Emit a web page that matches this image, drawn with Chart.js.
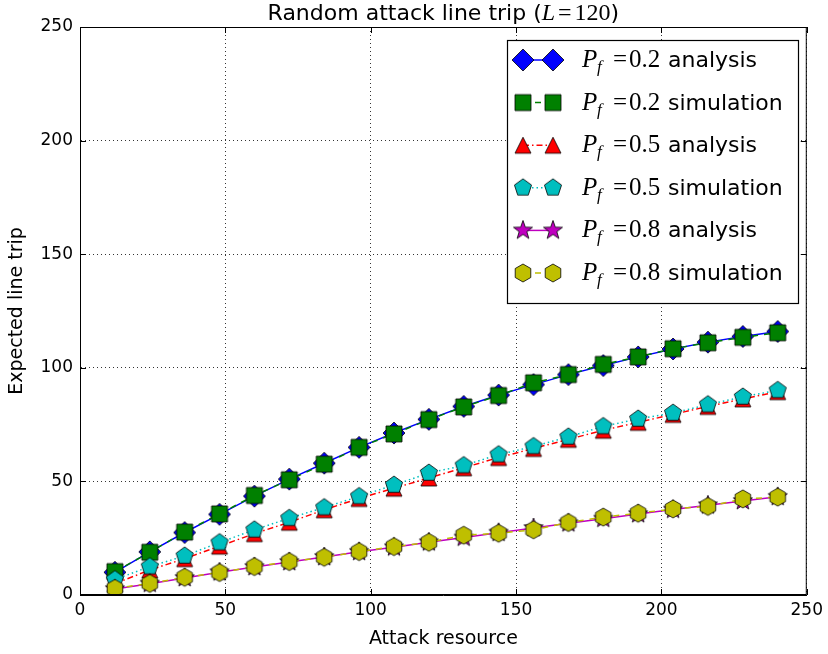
<!DOCTYPE html>
<html>
<head>
<meta charset="utf-8">
<script src="https://cdn.jsdelivr.net/npm/chart.js@4.4.1/dist/chart.umd.min.js"></script>
<style>
  html, body { margin: 0; padding: 0; background: #fff; }
  canvas { display: block; }
</style>
</head>
<body>
<canvas id="tripChart" width="828" height="654"></canvas>
<script>
// attack resource values (x)
const attackResource = [12, 24, 36, 48, 60, 72, 84, 96, 108, 120, 132, 144, 156, 168, 180, 192, 204, 216, 228, 240];

// expected line trip
const pf02Analysis = [10, 19, 27.5, 35.5, 43.5, 51, 58, 65, 71.3, 77.3, 83, 88, 92.6, 97, 101, 104.8, 108.3, 111.3, 113.8, 116];
const pf02Simulation = [10.3, 18.8, 27.7, 35.7, 43.8, 50.7, 57.6, 65, 70.9, 77.2, 82.8, 87.8, 93.4, 97, 101.5, 104.8, 108.4, 111, 113.4, 115.4];
const pf05Analysis = [5, 11, 16, 21.5, 27, 32, 37.5, 42.5, 47, 51.5, 56, 60.5, 64.5, 68.5, 72.5, 76, 79.5, 83, 86.3, 89.5];
const pf05Simulation = [6.8, 12.5, 17.2, 23.1, 28.7, 33.8, 38.5, 43.4, 48.4, 53.7, 57, 61.8, 65.4, 69.6, 74.2, 77.5, 80.1, 83.8, 87.2, 90.1];
const pf08Analysis = [2.6, 5, 7.5, 10, 12.3, 14.5, 16.7, 19, 21, 23.2, 25.3, 27.4, 29.5, 31.6, 33.6, 35.6, 37.6, 39.5, 41.4, 43.2];
const pf08Simulation = [2.9, 5.1, 7.8, 9.9, 12.5, 14.7, 16.6, 19.1, 21.3, 23.2, 26.3, 27.2, 28.7, 31.9, 34.3, 36, 37.9, 39, 42.3, 43.1];

const axisTicks = [0, 50, 100, 150, 200, 250];

// matplotlib-like markers drawn on small canvases
function makeMarker(shape, fill, r) {
    const s = Math.ceil(r * 2 + 4);
    const c = document.createElement('canvas');
    c.width = s; c.height = s;
    const g = c.getContext('2d');
    const cx = s / 2, cy = s / 2;
    const poly = (n, rad, start, inner) => {
        const k = inner ? n * 2 : n;
        for (let i = 0; i < k; i++) {
            const a = start + i * 2 * Math.PI / k;
            const rr = inner && i % 2 ? inner : rad;
            const px = cx + rr * Math.cos(a), py = cy + rr * Math.sin(a);
            i ? g.lineTo(px, py) : g.moveTo(px, py);
        }
        g.closePath();
    };
    g.beginPath();
    if (shape === 'diamond') poly(4, r, -Math.PI / 2);
    else if (shape === 'square') g.rect(cx - r, cy - r, 2 * r, 2 * r);
    else if (shape === 'triangle') { g.moveTo(cx, cy - r); g.lineTo(cx + r, cy + r); g.lineTo(cx - r, cy + r); g.closePath(); }
    else if (shape === 'pentagon') poly(5, r, -Math.PI / 2);
    else if (shape === 'hexagon') poly(6, r, -Math.PI / 2);
    else if (shape === 'star') poly(5, r, -Math.PI / 2, r * 0.4);
    g.fillStyle = fill;
    g.fill();
    g.lineWidth = 0.8;
    g.strokeStyle = '#000';
    g.stroke();
    return c;
}

const series = [
    { pf: '0.2', kind: 'analysis', data: pf02Analysis, color: '#0000ff', dash: [], marker: makeMarker('diamond', '#0000ff', 11) },
    { pf: '0.2', kind: 'simulation', data: pf02Simulation, color: '#008000', dash: [6, 6], marker: makeMarker('square', '#008000', 8) },
    { pf: '0.5', kind: 'analysis', data: pf05Analysis, color: '#ff0000', dash: [6, 3, 1.5, 3], marker: makeMarker('triangle', '#ff0000', 8) },
    { pf: '0.5', kind: 'simulation', data: pf05Simulation, color: '#00bfbf', dash: [1.5, 3], marker: makeMarker('pentagon', '#00bfbf', 9) },
    { pf: '0.8', kind: 'analysis', data: pf08Analysis, color: '#bf00bf', dash: [], marker: makeMarker('star', '#bf00bf', 10) },
    { pf: '0.8', kind: 'simulation', data: pf08Simulation, color: '#bfbf00', dash: [6, 6], marker: makeMarker('hexagon', '#bfbf00', 9) },
];

const datasets = series.map((s, i) => ({
    label: 'Pf=' + s.pf + ' ' + s.kind,
    data: s.data.map((v, j) => ({ x: attackResource[j], y: v })),
    borderColor: s.color,
    borderWidth: 1.5,
    borderDash: s.dash,
    pointStyle: s.marker,
    pointRadius: 9,
    showLine: true,
    fill: false,
    order: series.length - i,  // later series drawn on top
}));

// title with italic L, frame with inward ticks, and the legend box
const decorations = {
    id: 'decorations',
    afterDraw(chart) {
        const ctx = chart.ctx;
        const a = chart.chartArea;
        const xs = chart.scales.x, ys = chart.scales.y;

        // frame + inward ticks
        ctx.save();
        ctx.strokeStyle = '#000';
        ctx.lineWidth = 1;
        ctx.strokeRect(a.left + 0.5, a.top + 0.5, a.right - a.left - 1, a.bottom - a.top - 1);
        axisTicks.forEach(v => {
            const px = Math.round(xs.getPixelForValue(v)) + 0.5;
            const py = Math.round(ys.getPixelForValue(v)) + 0.5;
            ctx.beginPath();
            ctx.moveTo(px, a.bottom); ctx.lineTo(px, a.bottom - 6);
            ctx.moveTo(px, a.top); ctx.lineTo(px, a.top + 6);
            ctx.moveTo(a.left, py); ctx.lineTo(a.left + 6, py);
            ctx.moveTo(a.right, py); ctx.lineTo(a.right - 6, py);
            ctx.stroke();
        });

        // title
        const cx = (a.left + a.right) / 2;
        const parts = [
            ['Random attack line trip (', '22px "DejaVu Sans"', 0],
            ['L', 'italic 24px "Liberation Serif"', 3],
            ['=', '24px "Liberation Serif"', 3],
            ['120', '24px "Liberation Serif"', 0],
            [')', '22px "DejaVu Sans"', 0],
        ];
        let w = 0;
        parts.forEach(p => { ctx.font = p[1]; w += ctx.measureText(p[0]).width + p[2]; });
        let tx = cx - w / 2;
        ctx.fillStyle = '#000';
        ctx.textBaseline = 'alphabetic';
        ctx.textAlign = 'left';
        parts.forEach(p => { ctx.font = p[1]; ctx.fillText(p[0], tx, 20); tx += ctx.measureText(p[0]).width + p[2]; });

        // legend
        const box = { left: 507, top: 40, right: 798, bottom: 303 };
        ctx.fillStyle = '#fff';
        ctx.fillRect(box.left, box.top, box.right - box.left, box.bottom - box.top);
        ctx.strokeStyle = '#000';
        ctx.lineWidth = 1.2;
        ctx.strokeRect(box.left + 0.5, box.top + 0.5, box.right - box.left, box.bottom - box.top);
        series.forEach((s, i) => {
            const y = 60 + i * 42.6;
            ctx.save();
            ctx.strokeStyle = s.color;
            ctx.lineWidth = 1.5;
            ctx.setLineDash(s.dash);
            ctx.beginPath(); ctx.moveTo(523, y); ctx.lineTo(553, y); ctx.stroke();
            ctx.restore();
            ctx.drawImage(s.marker, 523 - s.marker.width / 2, y - s.marker.height / 2);
            ctx.drawImage(s.marker, 553 - s.marker.width / 2, y - s.marker.height / 2);
            const base = y + 7;
            ctx.fillStyle = '#000';
            ctx.font = 'italic 25px "Liberation Serif"';
            ctx.fillText('P', 582, base);
            ctx.font = 'italic 17px "Liberation Serif"';
            ctx.fillText('f', 597, base + 5);
            ctx.font = '25px "Liberation Serif"';
            ctx.fillText('=', 613, base);
            ctx.fillText(s.pf, 629, base);
            ctx.font = '22px "DejaVu Sans"';
            ctx.fillText(s.kind, 668, base);
        });
        ctx.restore();
    }
};

const tickFont = { family: 'DejaVu Sans', size: 17 };
const labelFont = { family: 'DejaVu Sans', size: 19 };

new Chart(document.getElementById('tripChart').getContext('2d'), {
    type: 'scatter',
    data: { datasets: datasets },
    options: {
        responsive: false,
        animation: false,
        devicePixelRatio: 1,
        layout: { padding: { top: 27, right: 20, left: 0, bottom: 0 } },
        plugins: {
            legend: { display: false },
            title: { display: false },
            tooltip: { enabled: false },
        },
        scales: {
            x: {
                type: 'linear',
                min: 0,
                max: 250,
                ticks: { stepSize: 50, color: '#000', font: tickFont, padding: 5, maxRotation: 0 },
                grid: { color: '#000', lineWidth: 0.8, drawTicks: false },
                border: { display: true, color: '#000', dash: [1, 3] },
                title: { display: true, text: 'Attack resource', color: '#000', font: labelFont, padding: { top: 6, bottom: 4 } },
                afterFit: s => { s.height = 59; },
            },
            y: {
                type: 'linear',
                min: 0,
                max: 250,
                ticks: { stepSize: 50, color: '#000', font: tickFont, padding: 7 },
                grid: { color: '#000', lineWidth: 0.8, drawTicks: false },
                border: { display: true, color: '#000', dash: [1, 3] },
                title: { display: true, text: 'Expected line trip', color: '#000', font: labelFont, padding: { top: 6, bottom: 4 } },
                afterFit: s => { s.width = 80; },
            },
        },
    },
    plugins: [decorations],
});
</script>
</body>
</html>
